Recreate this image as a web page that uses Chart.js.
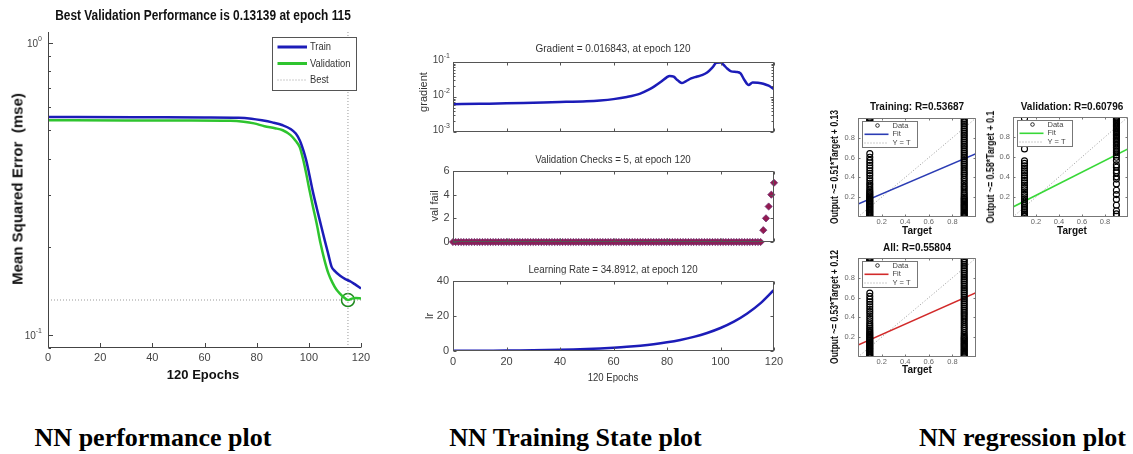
<!DOCTYPE html>
<html><head><meta charset="utf-8">
<script src="https://cdn.jsdelivr.net/npm/chart.js@4.4.1/dist/chart.umd.min.js"></script>
<style>
html,body{margin:0;padding:0;background:#fff;width:1133px;height:454px;overflow:hidden;position:relative}
canvas{position:absolute}
.t{position:absolute;white-space:pre;line-height:1}
</style></head><body>
<script>
// ---------------- DATA ----------------
// Performance plot (mse per epoch)
const trainEpochs = [0, 33, 60, 73, 78, 82, 86, 90, 93, 95, 96.5, 98, 99, 100, 101.5, 103, 104.5, 106, 107.5, 108.7, 110, 112, 114, 116, 118, 120];
const trainMse    = [0.556, 0.555, 0.554, 0.553, 0.549, 0.542, 0.533, 0.521, 0.506, 0.488, 0.463, 0.425, 0.395, 0.360, 0.310, 0.272, 0.240, 0.212, 0.188, 0.171, 0.165, 0.159, 0.155, 0.152, 0.148, 0.144];
const valEpochs   = [0, 30, 55, 70, 75, 79, 83, 87, 90, 93, 95, 96.5, 98, 99, 100, 101.5, 103, 104.5, 106, 107.5, 109, 110.5, 112, 113.5, 115, 116.5, 118, 120];
const valMse      = [0.542, 0.541, 0.541, 0.540, 0.536, 0.529, 0.517, 0.509, 0.501, 0.482, 0.460, 0.439, 0.392, 0.356, 0.320, 0.276, 0.240, 0.205, 0.180, 0.162, 0.151, 0.143, 0.138, 0.134, 0.1314, 0.1328, 0.1334, 0.1330];
const bestEpoch = [115];
const bestPerf  = [0.13139];
const perfYRange = [0.09, 1.087];
const perfXTicks = [0, 20, 40, 60, 80, 100, 120];
const perfYTicks = [0.1, 1];

// Training state
const gradEpochs = [0, 10, 20, 30, 40, 50, 55, 60, 65, 70, 73, 75, 78, 80, 81, 82.5, 84, 85.5, 87, 89, 91, 93, 95, 97, 98.5, 100, 101, 102.5, 104, 106, 107.5, 109, 110.5, 112, 114, 116, 118, 120];
const gradVals   = [0.0062, 0.0064, 0.0066, 0.0069, 0.0072, 0.0076, 0.0080, 0.0087, 0.0100, 0.0125, 0.0160, 0.0195, 0.0280, 0.0370, 0.0400, 0.0380, 0.0300, 0.0250, 0.0280, 0.0340, 0.0380, 0.0420, 0.0500, 0.0700, 0.0950, 0.0960, 0.0850, 0.0650, 0.0540, 0.0520, 0.0470, 0.0300, 0.0220, 0.0260, 0.0255, 0.0240, 0.0210, 0.0168];
const gradYTicks = [0.001, 0.01, 0.1];
const valFail = [
  0,0,0,0,0,0,0,0,0,0, 0,0,0,0,0,0,0,0,0,0,
  0,0,0,0,0,0,0,0,0,0, 0,0,0,0,0,0,0,0,0,0,
  0,0,0,0,0,0,0,0,0,0, 0,0,0,0,0,0,0,0,0,0,
  0,0,0,0,0,0,0,0,0,0, 0,0,0,0,0,0,0,0,0,0,
  0,0,0,0,0,0,0,0,0,0, 0,0,0,0,0,0,0,0,0,0,
  0,0,0,0,0,0,0,0,0,0, 0,0,0,0,0,0,
  1,2,3,4,5
];
const lrEpochs = [0,5,10,15,20,25,30,35,40,45,50,55,60,65,70,75,80,85,90,95,100,105,110,115,120];
const lrVals   = [0.10,0.13,0.16,0.21,0.27,0.34,0.43,0.55,0.70,0.90,1.15,1.46,1.87,2.38,3.04,3.88,4.96,6.33,8.07,10.30,13.15,16.78,21.42,27.33,34.89];

// Regression plots: targets are 0.1 and 0.9
const targets = [0.1, 0.9];
const trainOutLow  = [0.000,0.012,0.021,0.030,0.042,0.051,0.060,0.071,0.080,0.092,0.101,0.110,0.122,0.131,0.140,0.152,0.161,0.170,0.183,0.192,0.201,0.213,0.224,0.236,0.249,0.262,0.281,0.300,0.322,0.341,0.365,0.392,0.418,0.441,0.467,0.495,0.521,0.548,0.572,0.603,0.640,0.933,0.948,0.962,0.975,0.987,0.998];
const trainOutHigh = [0.004,0.015,0.027,0.038,0.049,0.061,0.072,0.084,0.095,0.107,0.118,0.130,0.141,0.153,0.164,0.176,0.187,0.199,0.214,0.232,0.251,0.273,0.294,0.312,0.335,0.356,0.378,0.397,0.418,0.437,0.455,0.476,0.495,0.514,0.532,0.551,0.569,0.588,0.606,0.625,0.643,0.662,0.680,0.699,0.717,0.736,0.754,0.773,0.791,0.810,0.828,0.847,0.865,0.884,0.902,0.921,0.939,0.958,0.976,0.995];
const valOutLow    = [0.002,0.014,0.027,0.045,0.062,0.081,0.098,0.117,0.136,0.158,0.179,0.203,0.226,0.247,0.272,0.295,0.318,0.342,0.366,0.391,0.415,0.441,0.463,0.488,0.512,0.536,0.561,0.681,0.985];
const valOutHigh   = [0.008,0.031,0.062,0.118,0.176,0.224,0.268,0.331,0.379,0.402,0.441,0.463,0.498,0.521,0.566,0.598,0.621,0.642,0.661,0.679,0.697,0.712,0.728,0.743,0.758,0.771,0.786,0.799,0.812,0.826,0.839,0.851,0.864,0.877,0.889,0.902,0.914,0.927,0.939,0.951,0.963,0.975,0.988,0.997];
const allOutLow    = [0.000,0.010,0.020,0.031,0.041,0.052,0.061,0.072,0.083,0.092,0.103,0.113,0.124,0.133,0.144,0.154,0.165,0.175,0.186,0.197,0.208,0.219,0.231,0.243,0.256,0.271,0.288,0.305,0.324,0.343,0.366,0.389,0.412,0.436,0.459,0.483,0.508,0.532,0.557,0.583,0.612,0.645,0.931,0.947,0.961,0.974,0.986,0.998];
const allOutHigh   = [0.002,0.013,0.025,0.036,0.048,0.059,0.071,0.082,0.094,0.105,0.117,0.128,0.140,0.151,0.163,0.174,0.186,0.198,0.211,0.229,0.248,0.269,0.290,0.309,0.331,0.352,0.374,0.394,0.415,0.434,0.453,0.473,0.492,0.511,0.530,0.549,0.567,0.586,0.604,0.623,0.641,0.660,0.678,0.697,0.715,0.734,0.752,0.771,0.789,0.808,0.826,0.845,0.863,0.882,0.900,0.919,0.937,0.956,0.974,0.993];
const trainFit = [0.13, 0.64];   // output at target 0 and 1
const valFit   = [0.10, 0.68];
const allFit   = [0.12, 0.65];
const regTicks = [0.2, 0.4, 0.6, 0.8];

// ---------------- STYLE ----------------
const SANS = "'Liberation Sans', Arial, Helvetica, sans-serif";
const SERIF = "'Liberation Serif', 'Times New Roman', serif";
Chart.defaults.font.family = SANS;
Chart.defaults.color = '#444';
const BLUE = '#1c1cb8', GREEN = '#2ec42e';

function txt(s, cx, cy, o) {
  const d = document.createElement('div');
  d.className = 't'; d.textContent = s;
  d.style.left = cx + 'px'; d.style.top = cy + 'px';
  d.style.fontSize = (o.size || 11) + 'px';
  d.style.fontWeight = o.bold ? 'bold' : 'normal';
  d.style.fontFamily = o.family || SANS;
  d.style.color = o.color || '#222';
  d.style.transform = `translate(-50%,-50%) rotate(${o.rot || 0}deg) scaleX(${o.sx || 1})`;
  document.body.appendChild(d);
}

const matlabAxes = {
  id: 'matlabAxes',
  afterDatasetsDraw(chart, args, o) {
    if (!o || !o.on) return;
    const ctx = chart.ctx, a = chart.chartArea, xs = chart.scales.x, ys = chart.scales.y;
    const l = Math.round(a.left) + 0.5, r = Math.round(a.right) - 0.5, t = Math.round(a.top) + 0.5, b = Math.round(a.bottom) - 0.5;
    ctx.save();
    ctx.strokeStyle = o.color; ctx.lineWidth = 1; ctx.setLineDash([]);
    ctx.beginPath();
    ctx.moveTo(l, t - 0.5); ctx.lineTo(l, b); ctx.lineTo(r + 0.5, b);
    if (o.box) { ctx.moveTo(l, t); ctx.lineTo(r, t); ctx.lineTo(r, b); }
    const tl = o.tick;
    xs.ticks.forEach(tk => {
      const p = Math.round(xs.getPixelForValue(tk.value)) + 0.5;
      ctx.moveTo(p, b); ctx.lineTo(p, b - tl);
      if (o.box) { ctx.moveTo(p, t); ctx.lineTo(p, t + tl); }
    });
    ys.ticks.forEach(tk => {
      const p = Math.round(ys.getPixelForValue(tk.value)) + 0.5;
      ctx.moveTo(l, p); ctx.lineTo(l + tl, p);
      if (o.box) { ctx.moveTo(r, p); ctx.lineTo(r - tl, p); }
    });
    if (o.minor) {
      const lo = Math.floor(Math.log10(ys.min)), hi = Math.ceil(Math.log10(ys.max));
      for (let d = lo; d < hi; d++) for (let k = 2; k < 10; k++) {
        const v = k * Math.pow(10, d);
        if (v < ys.min || v > ys.max) continue;
        const p = Math.round(ys.getPixelForValue(v)) + 0.5;
        ctx.moveTo(l, p); ctx.lineTo(l + o.minor, p);
        if (o.box) { ctx.moveTo(r, p); ctx.lineTo(r - o.minor, p); }
      }
    }
    ctx.stroke();
    if (o.sup) {
      const s = o.sup;
      ctx.fillStyle = s.color; ctx.textAlign = 'right'; ctx.textBaseline = 'middle';
      ys.ticks.forEach(tk => {
        const p = ys.getPixelForValue(tk.value);
        const es = String(Math.round(Math.log10(tk.value)));
        ctx.font = `${s.supSize}px ${SANS}`;
        const ew = ctx.measureText(es).width;
        const xr = a.left - s.pad;
        ctx.fillText(es, xr, p + s.supDy);
        ctx.font = `${s.size}px ${SANS}`;
        ctx.fillText('10', xr - ew, p + s.baseDy);
      });
    }
    ctx.restore();
  }
};

const boxLegend = {
  id: 'boxLegend',
  afterDraw(chart, args, o) {
    if (!o || !o.on) return;
    const ctx = chart.ctx, a = chart.chartArea;
    const x = (o.fromRight ? a.right - o.dx - o.w : a.left + o.dx), y = a.top + o.dy;
    ctx.save();
    ctx.fillStyle = '#fff'; ctx.fillRect(x, y, o.w, o.h);
    ctx.strokeStyle = o.border; ctx.lineWidth = 1; ctx.strokeRect(Math.round(x) + 0.5, Math.round(y) + 0.5, o.w, o.h);
    const items = chart.data.datasets.filter(d => d.legendText);
    items.forEach((d, i) => {
      const ry = y + o.rows[i];
      ctx.save();
      if (d.legendKind === 'marker') {
        ctx.strokeStyle = '#000'; ctx.lineWidth = 0.8;
        ctx.beginPath(); ctx.arc(x + o.mark, ry, o.markR, 0, Math.PI * 2); ctx.stroke();
      } else {
        ctx.strokeStyle = d.borderColor;
        ctx.lineWidth = d.legendKind === 'dotted' ? 1 : o.lw;
        if (d.legendKind === 'dotted') ctx.setLineDash([1, 2]);
        ctx.beginPath(); ctx.moveTo(x + o.l1, ry); ctx.lineTo(x + o.l2, ry); ctx.stroke();
      }
      ctx.restore();
      ctx.save();
      ctx.fillStyle = o.textColor; ctx.font = `${o.size}px ${SANS}`;
      ctx.textAlign = 'left'; ctx.textBaseline = 'middle';
      ctx.translate(x + o.tx, ry); ctx.scale(o.sx, 1);
      ctx.fillText(d.legendText, 0, 0);
      ctx.restore();
    });
    ctx.restore();
  }
};
Chart.register(matlabAxes, boxLegend);

function makeChart(box, area, cfg) {
  const c = document.createElement('canvas');
  c.width = box.w; c.height = box.h;
  c.style.left = box.x + 'px'; c.style.top = box.y + 'px';
  c.style.width = box.w + 'px'; c.style.height = box.h + 'px';
  document.body.appendChild(c);
  const yW = area.l - box.x, xH = box.y + box.h - area.b;
  const o = cfg.options;
  o.responsive = false; o.animation = false; o.devicePixelRatio = 1;
  o.layout = { padding: { top: area.t - box.y, right: box.x + box.w - area.r, left: 0, bottom: 0 } };
  const zero = s => { s.paddingLeft = 0; s.paddingRight = 0; s.paddingTop = 0; s.paddingBottom = 0; };
  o.scales.x.afterFit = s => { s.height = xH; zero(s); };
  o.scales.y.afterFit = s => { s.width = yW; zero(s); };
  o.plugins = Object.assign({ legend: { display: false }, tooltip: { enabled: false } }, o.plugins || {});
  return new Chart(c, cfg);
}
function linAxis(min, max, ticksArr, show, size, pad, color) {
  return {
    type: 'linear', min, max,
    afterBuildTicks: s => { s.ticks = ticksArr.map(v => ({ value: v })); },
    ticks: { display: show, autoSkip: false, maxRotation: 0, padding: pad, font: { size, family: SANS }, color: color || '#444' },
    grid: { display: false, drawTicks: false, tickLength: 0 }, border: { display: false }
  };
}
function logAxis(min, max, ticksArr) {
  return {
    type: 'logarithmic', min, max,
    afterBuildTicks: s => { s.ticks = ticksArr.map(v => ({ value: v })); },
    ticks: { display: false }, grid: { display: false, drawTicks: false, tickLength: 0 }, border: { display: false }
  };
}
const pts = (xs, ys) => xs.map((x, i) => ({ x, y: ys[i] }));

// ---------------- PERFORMANCE ----------------
makeChart({ x: 0, y: 20, w: 378, h: 352 }, { l: 48, t: 32, r: 361, b: 348 }, {
  type: 'line',
  data: { datasets: [
    { legendText: 'Train', legendKind: 'line', data: pts(trainEpochs, trainMse), borderColor: BLUE, borderWidth: 2.5, pointRadius: 0, cubicInterpolationMode: 'monotone' },
    { legendText: 'Validation', legendKind: 'line', data: pts(valEpochs, valMse), borderColor: GREEN, borderWidth: 2.5, pointRadius: 0, cubicInterpolationMode: 'monotone' },
    { legendText: 'Best', legendKind: 'dotted', data: [{ x: perfXTicks[0], y: bestPerf[0] }, { x: perfXTicks[perfXTicks.length - 1], y: bestPerf[0] }], borderColor: '#999', borderWidth: 1, borderDash: [1, 2], pointRadius: 0 },
    { data: [{ x: bestEpoch[0], y: perfYRange[0] }, { x: bestEpoch[0], y: perfYRange[1] }], borderColor: '#999', borderWidth: 1, borderDash: [1, 2], pointRadius: 0 },
    { data: [{ x: bestEpoch[0], y: bestPerf[0] }], showLine: false, pointRadius: 6.5, pointBorderColor: '#1c8a1c', pointBackgroundColor: 'rgba(0,0,0,0)', pointBorderWidth: 1.5 }
  ] },
  options: {
    scales: { x: linAxis(0, 120, perfXTicks, true, 11, 3.5), y: logAxis(perfYRange[0], perfYRange[1], perfYTicks) },
    plugins: {
      matlabAxes: { on: true, box: false, tick: 4.5, minor: 2.5, color: '#444', sup: { size: 10, supSize: 7, pad: 6, color: '#444', baseDy: 1.5, supDy: -3.5 } },
      boxLegend: { on: true, fromRight: true, dx: 5, dy: 5, w: 84, h: 53, rows: [10, 26.5, 43], l1: 5.5, l2: 35, tx: 38, size: 11, sx: 0.85, lw: 3, border: '#555', textColor: '#333' }
    }
  }
});
txt('Best Validation Performance is 0.13139 at epoch 115', 203, 15, { size: 14, bold: 1, sx: 0.85, color: '#111' });
txt('Mean Squared Error  (mse)', 16.5, 189, { size: 15, bold: 1, rot: -90, color: '#111' });
txt('120 Epochs', 203, 374, { size: 13, bold: 1, color: '#111' });

// ---------------- TRAINING STATE ----------------
const stAxes = { on: true, box: true, tick: 3, color: '#555' };
makeChart({ x: 420, y: 52, w: 362, h: 86 }, { l: 453, t: 62, r: 774, b: 132 }, {
  type: 'line',
  data: { datasets: [{ data: pts(gradEpochs, gradVals), borderColor: BLUE, borderWidth: 2.5, pointRadius: 0, cubicInterpolationMode: 'monotone' }] },
  options: {
    scales: { x: linAxis(0, 120, perfXTicks, false, 11, 4), y: logAxis(0.001, 0.1, gradYTicks) },
    plugins: { matlabAxes: Object.assign({}, stAxes, { minor: 2, sup: { size: 10, supSize: 7, pad: 3, color: '#444', baseDy: -1.5, supDy: -6 } }) }
  }
});
makeChart({ x: 420, y: 161, w: 362, h: 90 }, { l: 453, t: 171, r: 774, b: 242 }, {
  type: 'line',
  data: { datasets: [{ data: valFail.map((v, i) => ({ x: i, y: v })), showLine: false, pointStyle: 'rectRot', pointRadius: 3.6, pointBackgroundColor: '#931a50', pointBorderColor: '#6f2f72', pointBorderWidth: 0.8, clip: false }] },
  options: {
    scales: { x: linAxis(0, 120, perfXTicks, false, 11, 4), y: linAxis(0, 6, [0, 2, 4, 6], true, 11, 3.5) },
    plugins: { matlabAxes: stAxes }
  }
});
makeChart({ x: 420, y: 271, w: 366, h: 100 }, { l: 453, t: 281, r: 774, b: 351 }, {
  type: 'line',
  data: { datasets: [{ data: pts(lrEpochs, lrVals), borderColor: BLUE, borderWidth: 2.5, pointRadius: 0, cubicInterpolationMode: 'monotone' }] },
  options: {
    scales: { x: linAxis(0, 120, perfXTicks, true, 11, 4.5), y: linAxis(0, 40, [0, 20, 40], true, 11, 4) },
    plugins: { matlabAxes: stAxes }
  }
});
txt('Gradient = 0.016843, at epoch 120', 612.5, 48, { size: 11, sx: 0.91, color: '#333' });
txt('gradient', 423, 92, { size: 11, rot: -90, color: '#333' });
txt('Validation Checks = 5, at epoch 120', 613, 159, { size: 11, sx: 0.885, color: '#333' });
txt('val fail', 434, 206, { size: 11, rot: -90, color: '#333' });
txt('Learning Rate = 34.8912, at epoch 120', 612.5, 269, { size: 11, sx: 0.885, color: '#333' });
txt('lr', 429, 316, { size: 11, rot: -90, color: '#333' });
txt('120 Epochs', 613, 377, { size: 11, sx: 0.87, color: '#333' });

// ---------------- REGRESSION ----------------
function regChart(box, area, low, high, fit, color) {
  const data = low.map(v => ({ x: targets[0], y: v })).concat(high.map(v => ({ x: targets[1], y: v })));
  makeChart(box, area, {
    type: 'line',
    data: { datasets: [
      { legendText: 'Data', legendKind: 'marker', data, showLine: false, pointStyle: 'circle', pointRadius: 3, pointBorderColor: '#000', pointBackgroundColor: 'rgba(0,0,0,0)', pointBorderWidth: 1.1 },
      { legendText: 'Fit', legendKind: 'line', data: [{ x: 0, y: fit[0] }, { x: 1, y: fit[1] }], borderColor: color, borderWidth: 1.6, pointRadius: 0 },
      { legendText: 'Y = T', legendKind: 'dotted', data: [{ x: 0, y: 0 }, { x: 1, y: 1 }], borderColor: '#999', borderWidth: 1, borderDash: [1, 2], pointRadius: 0 }
    ] },
    options: {
      scales: { x: linAxis(0, 1, regTicks, true, 7.5, 0.5, '#666'), y: linAxis(0, 1, regTicks, true, 7.5, 3, '#666') },
      plugins: {
        matlabAxes: { on: true, box: true, tick: 2, color: '#777' },
        boxLegend: { on: true, fromRight: false, dx: 3.5, dy: 3, w: 55, h: 26, rows: [4.5, 13.3, 22], l1: 3, l2: 27, mark: 16, markR: 1.8, tx: 31, size: 7.5, sx: 1, lw: 1.6, border: '#777', textColor: '#444' }
      }
    }
  });
}
regChart({ x: 836, y: 110, w: 148, h: 118 }, { l: 858, t: 118, r: 976, b: 217 }, trainOutLow, trainOutHigh, trainFit, '#2b3cb4');
regChart({ x: 992, y: 110, w: 141, h: 118 }, { l: 1013, t: 117, r: 1130, b: 217 }, valOutLow, valOutHigh, valFit, '#38d838');
regChart({ x: 836, y: 250, w: 148, h: 118 }, { l: 858, t: 258, r: 976, b: 357 }, allOutLow, allOutHigh, allFit, '#d22a2a');
txt('Training: R=0.53687', 917, 107, { size: 10, bold: 1, color: '#111' });
txt('Validation: R=0.60796', 1072, 107, { size: 10, bold: 1, color: '#111' });
txt('All: R=0.55804', 917, 248, { size: 10, bold: 1, color: '#111' });
txt('Target', 917, 230.5, { size: 10, bold: 1, color: '#111' });
txt('Target', 1072, 230.5, { size: 10, bold: 1, color: '#111' });
txt('Target', 917, 370, { size: 10, bold: 1, color: '#111' });
txt('Output ~= 0.51*Target + 0.13', 835, 167, { size: 10, bold: 1, rot: -90, sx: 0.85, color: '#111' });
txt('Output ~= 0.58*Target + 0.1', 991, 167, { size: 10, bold: 1, rot: -90, sx: 0.875, color: '#111' });
txt('Output ~= 0.53*Target + 0.12', 835, 307, { size: 10, bold: 1, rot: -90, sx: 0.85, color: '#111' });

// ---------------- CAPTIONS ----------------
txt('NN performance plot', 153, 438, { size: 26, bold: 1, family: SERIF, color: '#000' });
txt('NN Training State plot', 575.5, 438, { size: 26, bold: 1, family: SERIF, color: '#000' });
txt('NN regression plot', 1022.5, 438, { size: 26, bold: 1, family: SERIF, color: '#000' });
</script></body></html>
